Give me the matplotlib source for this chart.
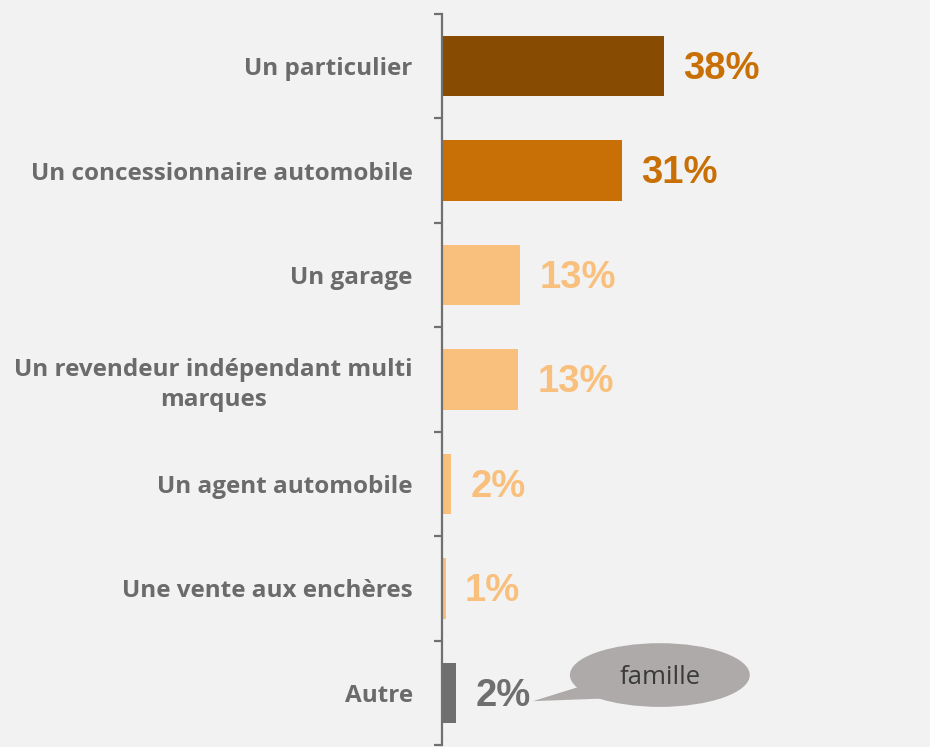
import numpy as np
import matplotlib.pyplot as plt
from matplotlib.patches import Ellipse, Polygon

# data (bar lengths as drawn, labels as printed)
categories = ['Un particulier',
              'Un concessionnaire automobile',
              'Un garage',
              'Un revendeur indépendant multi\nmarques',
              'Un agent automobile',
              'Une vente aux enchères',
              'Autre']
values = [38, 30.8, 13.4, 13, 1.6, 0.6, 2.4]
labels = ['38%', '31%', '13%', '13%', '2%', '1%', '2%']
bar_colors = ['#874b02', '#c87005', '#f9c07d', '#f9c07d', '#f9c07d', '#f9c07d', '#6f6f6f']
text_colors = ['#c87005', '#c87005', '#f9c07d', '#f9c07d', '#f9c07d', '#f9c07d', '#6f6f6f']
bubble_text = 'famille'

bg = '#f2f2f2'
W, H = 930, 747
fig = plt.figure(figsize=(W/100, H/100), dpi=100, facecolor=bg)
ax = fig.add_axes([442/W, 2/H, 1 - 442/W, (745-14)/H])
ax.set_facecolor(bg)

y = np.arange(len(categories))
ax.barh(y, values, height=0.58, color=bar_colors)
ax.set_xlim(0, (W-442)/5.84)
ax.set_ylim(len(categories)-0.5, -0.5)

for s in ['top', 'right', 'bottom']:
    ax.spines[s].set_visible(False)
ax.spines['left'].set_color('#707070')
ax.spines['left'].set_linewidth(1.6)
ax.set_xticks([])

# tick marks at category boundaries, labels at centres
ax.set_yticks(np.arange(len(categories)+1) - 0.5)
ax.set_yticklabels([])
ax.tick_params(axis='y', which='major', length=6, width=1.6, color='#707070')
ax.set_yticks(y, minor=True)
ax.set_yticklabels(categories, minor=True, fontsize=17.5, fontweight='bold',
                   color='#6b6b6b', family='Open Sans', multialignment='center',
                   linespacing=1.3)
ax.tick_params(axis='y', which='minor', length=0, pad=21)

for i in range(len(values)):
    ax.annotate(labels[i], (values[i], y[i]), xytext=(14, -2), textcoords='offset points',
                va='center', ha='left', fontsize=27.5, fontweight='bold',
                color=text_colors[i], family='Liberation Sans')

# speech bubble for "Autre"
ax.add_patch(Polygon([(15.6, 6.08), (26.5, 5.89), (30.0, 6.05)], closed=True,
                     facecolor='#aeaaaa', edgecolor='none'))
ax.add_patch(Ellipse((37.3, 5.83), 30.8, 0.61, facecolor='#aeaaaa', edgecolor='none'))
ax.text(37.3, 5.85, bubble_text, ha='center', va='center', fontsize=18.5,
        color='#3a3a3a', family='Open Sans')

fig.savefig('out.png', dpi=100, facecolor=bg)
